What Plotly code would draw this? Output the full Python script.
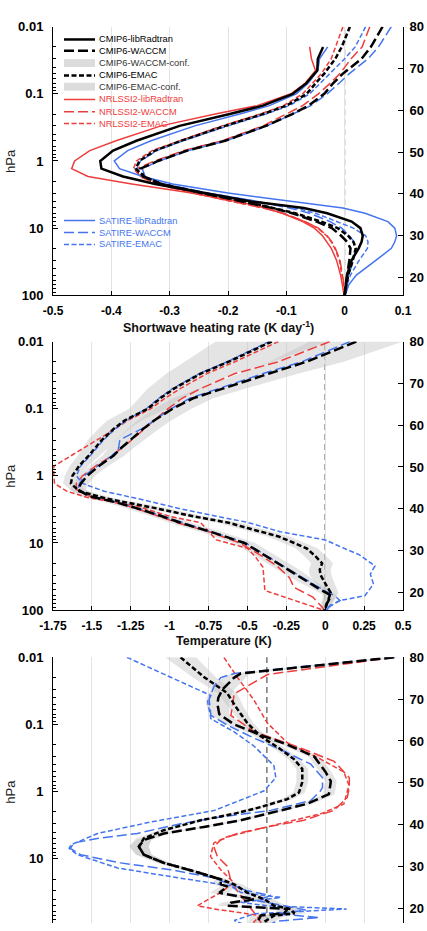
import plotly.graph_objects as go

# ---------------- tick labels ----------------
p_ticks = [0.01, 0.1, 1, 10, 100]
p_labels = ["0.01", "0.1", "1", "10", "100"]
alt_ticks = [20, 30, 40, 50, 60, 70, 80]
x1_ticks = [-0.5, -0.4, -0.3, -0.2, -0.1, 0, 0.1]
x1_labels = ["-0.5", "-0.4", "-0.3", "-0.2", "-0.1", "0", "0.1"]
x2_ticks = [-1.75, -1.5, -1.25, -1, -0.75, -0.5, -0.25, 0, 0.25, 0.5]
x2_labels = ["-1.75", "-1.5", "-1.25", "-1", "-0.75", "-0.5", "-0.25", "0", "0.25", "0.5"]
x3_ticks = [-1.1, -0.9, -0.7, -0.5, -0.3, -0.1, 0.1, 0.3, 0.5, 0.7]

# ---------------- panel 1 : shortwave heating rate (K/day) ----------------
p1 = [0.01, 0.02, 0.03, 0.05, 0.07, 0.1, 0.15, 0.2, 0.3, 0.5, 0.7, 1, 1.3, 1.7, 2.2, 3,
      4, 5, 6, 8, 10, 13, 16, 20, 30, 50, 70, 100]
p1_lrt = [0.02, 0.03, 0.045, 0.07, 0.1, 0.15, 0.2, 0.3, 0.5, 0.7, 1, 1.3, 1.7, 2.2, 3,
          4, 5, 6, 8, 10, 13, 16, 20, 30, 50, 70, 100]
hr_cmip6_lrt = [-0.037, -0.046, -0.047, -0.066, -0.089, -0.140, -0.197, -0.283, -0.357, -0.397,
                -0.419, -0.417, -0.380, -0.325, -0.240, -0.160, -0.070, -0.030, 0.012, 0.027,
                0.031, 0.029, 0.024, 0.012, 0.004, 0.002, 0.0]
hr_nrl_lrt = [-0.060, -0.057, -0.050, -0.068, -0.092, -0.150, -0.222, -0.315, -0.392, -0.437,
              -0.463, -0.468, -0.440, -0.365, -0.262, -0.183, -0.136, -0.107, -0.072, -0.052,
              -0.038, -0.030, -0.023, -0.014, -0.007, -0.004, -0.001]
hr_sat_lrt = [-0.029, -0.043, -0.046, -0.063, -0.083, -0.129, -0.180, -0.257, -0.332, -0.372,
              -0.395, -0.386, -0.346, -0.295, -0.200, -0.090, -0.003, 0.035, 0.074, 0.086,
              0.089, 0.086, 0.080, 0.054, 0.020, 0.007, 0.001]
hr_cmip6_waccm = [0.065, 0.045, 0.029, -0.003, -0.020, -0.035, -0.062, -0.090, -0.135, -0.205,
                  -0.270, -0.320, -0.350, -0.345, -0.315, -0.245, -0.175, -0.125, -0.090, -0.048,
                  -0.022, -0.006, 0.004, 0.010, 0.008, 0.004, 0.002, 0.0]
hr_cmip6_emac = [0.009, -0.005, -0.016, -0.035, -0.050, -0.065, -0.100, -0.140, -0.205, -0.280,
                 -0.325, -0.352, -0.358, -0.345, -0.315, -0.245, -0.170, -0.120, -0.085, -0.040,
                 -0.012, 0.006, 0.015, 0.019, 0.014, 0.006, 0.003, 0.0]
hr_sat_waccm = [0.080, 0.058, 0.040, 0.008, -0.010, -0.030, -0.058, -0.088, -0.133, -0.203,
                -0.268, -0.318, -0.347, -0.342, -0.310, -0.235, -0.150, -0.095, -0.060, -0.025,
                -0.005, 0.008, 0.016, 0.019, 0.015, 0.007, 0.003, 0.0]
hr_sat_emac = [0.036, 0.018, 0.000, -0.025, -0.042, -0.060, -0.095, -0.135, -0.200, -0.277,
               -0.322, -0.350, -0.356, -0.343, -0.310, -0.235, -0.150, -0.085, -0.050, -0.012,
               0.015, 0.036, 0.040, 0.039, 0.025, 0.010, 0.004, 0.0]
hr_nrl_waccm = [0.043, 0.030, 0.011, -0.008, -0.025, -0.045, -0.072, -0.100, -0.140, -0.210,
                -0.276, -0.326, -0.356, -0.352, -0.322, -0.260, -0.190, -0.140, -0.105, -0.068,
                -0.045, -0.030, -0.022, -0.016, -0.008, -0.003, -0.001, 0.0]
hr_nrl_emac = [-0.003, -0.015, -0.023, -0.040, -0.055, -0.072, -0.105, -0.145, -0.210, -0.284,
               -0.330, -0.357, -0.362, -0.350, -0.322, -0.262, -0.190, -0.140, -0.106, -0.068,
               -0.046, -0.031, -0.023, -0.017, -0.009, -0.004, -0.002, 0.0]

# ---------------- panel 2 : temperature (K) ----------------
p2_cmip6_emac = [0.01, 0.02, 0.03, 0.05, 0.07, 0.1, 0.15, 0.2, 0.3, 0.5, 0.7, 1, 1.3, 1.7, 2.2,
                 3, 4, 5, 6, 8, 10, 12, 16, 20, 25, 30, 40, 55, 70, 100]
t2_cmip6_emac = [-0.344, -0.62, -0.80, -0.97, -1.06, -1.14, -1.29, -1.36, -1.44, -1.52, -1.58,
                 -1.625, -1.635, -1.58, -1.40, -1.10, -0.85, -0.62, -0.50, -0.30, -0.20, -0.12,
                 -0.06, -0.02, -0.035, -0.03, 0.0, 0.035, 0.02, -0.005]
ci2_cmip6_emac = [0.36, 0.28, 0.22, 0.17, 0.14, 0.12, 0.11, 0.10, 0.09, 0.07, 0.06, 0.05, 0.05,
                  0.05, 0.06, 0.07, 0.07, 0.07, 0.07, 0.07, 0.07, 0.07, 0.07, 0.07, 0.07, 0.07,
                  0.06, 0.05, 0.04, 0.03]
p2_cmip6_waccm = [0.01, 0.02, 0.03, 0.05, 0.07, 0.1, 0.15, 0.2, 0.3, 0.4, 0.5, 0.7, 1, 1.3, 1.6,
                  2, 2.5, 3, 4, 5, 7, 10, 17, 26, 37, 49, 61, 80, 100]
t2_cmip6_waccm = [0.20, -0.12, -0.36, -0.66, -0.85, -0.98, -1.10, -1.17, -1.26, -1.32, -1.36,
                  -1.45, -1.53, -1.57, -1.59, -1.52, -1.34, -1.22, -1.05, -0.93, -0.72, -0.52,
                  -0.355, -0.227, -0.12, -0.034, 0.04, 0.01, 0.0]
ci2_cmip6_waccm = [0.30, 0.24, 0.19, 0.15, 0.13, 0.12, 0.11, 0.10, 0.09, 0.08, 0.07, 0.06, 0.05,
                   0.05, 0.05, 0.06, 0.07, 0.07, 0.07, 0.07, 0.07, 0.07, 0.07, 0.07, 0.06, 0.05,
                   0.04, 0.03, 0.02]
p2_nrl_waccm = [0.01, 0.02, 0.03, 0.05, 0.07, 0.1, 0.15, 0.2, 0.3, 0.5, 0.7, 1, 1.3, 1.6, 2, 2.5,
                3, 4, 5, 7, 10, 15, 22, 33, 46, 64, 94, 100]
t2_nrl_waccm = [0.03, -0.30, -0.58, -0.80, -0.92, -1.01, -1.10, -1.16, -1.25, -1.37, -1.47, -1.56,
                -1.60, -1.60, -1.52, -1.35, -1.23, -1.07, -0.95, -0.73, -0.55, -0.42, -0.31,
                -0.23, -0.20, -0.08, -0.013, -0.01]
p2_sat_waccm = [0.01, 0.02, 0.03, 0.05, 0.07, 0.1, 0.15, 0.2, 0.29, 0.4, 0.5, 0.7, 1, 1.3, 1.6,
                2, 2.5, 3, 4, 5, 7, 10, 17, 26, 37, 49, 61, 72, 85, 100]
t2_sat_waccm = [0.16, -0.15, -0.40, -0.68, -0.87, -0.99, -1.10, -1.18, -1.32, -1.33, -1.37,
                -1.46, -1.55, -1.58, -1.59, -1.51, -1.33, -1.21, -1.04, -0.92, -0.71, -0.51,
                -0.35, -0.22, -0.11, -0.02, 0.06, 0.095, 0.03, 0.01]
p2_sat_emac = [0.01, 0.02, 0.03, 0.05, 0.07, 0.1, 0.15, 0.2, 0.3, 0.5, 0.7, 1, 1.3, 1.7, 2.2,
               3.1, 4, 4.9, 6.8, 8.5, 9, 12, 15, 22, 29, 41, 61, 72, 94, 100]
t2_sat_emac = [-0.36, -0.63, -0.81, -0.98, -1.07, -1.15, -1.28, -1.35, -1.43, -1.51, -1.57,
               -1.60, -1.56, -1.42, -1.20, -0.93, -0.70, -0.505, -0.29, -0.077, 0.0, 0.12, 0.22,
               0.32, 0.29, 0.31, 0.255, 0.095, 0.01, 0.0]
p2_nrl_emac = [0.01, 0.02, 0.03, 0.05, 0.07, 0.1, 0.15, 0.2, 0.37, 0.5, 0.72, 1, 1.3, 1.7, 2.1,
               2.75, 4, 5, 9, 12, 16, 23, 51, 68, 80, 96, 100]
t2_nrl_emac = [-0.30, -0.58, -0.76, -0.93, -1.03, -1.12, -1.27, -1.35, -1.54, -1.63, -1.745,
               -1.745, -1.74, -1.66, -1.53, -1.23, -1.0, -0.80, -0.70, -0.50, -0.45, -0.40,
               -0.388, -0.227, -0.13, -0.034, -0.02]

# ---------------- panel 3 ----------------
p3_cmip6_emac = [0.01, 0.0196, 0.034, 0.054, 0.095, 0.149, 0.233, 0.327, 0.458, 0.72, 1.03, 1.29,
                 1.7, 2.14, 2.67, 3.75, 4.97, 6.58, 8.7, 11.5, 15.3, 20.2, 24, 32, 40, 50, 56,
                 65, 70, 87, 100]
t3_cmip6_emac = [-0.444, -0.324, -0.204, -0.161, -0.101, -0.033, 0.07, 0.139, 0.182, 0.182, 0.165,
                 0.105, -0.033, -0.17, -0.341, -0.53, -0.633, -0.658, -0.633, -0.53, -0.376,
                 -0.238, -0.168, -0.1, -0.014, 0.038, 0.123, 0.141, 0.038, -0.014, -0.03]
ci3_cmip6_emac = [0.08, 0.06, 0.05, 0.04, 0.03, 0.03, 0.03, 0.03, 0.03, 0.03, 0.03, 0.03, 0.03,
                  0.03, 0.03, 0.03, 0.04, 0.05, 0.04, 0.03, 0.03, 0.03, 0.04, 0.05, 0.05, 0.06,
                  0.06, 0.06, 0.06, 0.05, 0.05]
p3_cmip6_waccm = [0.01, 0.0174, 0.02, 0.025, 0.03, 0.04, 0.05, 0.07, 0.1, 0.15, 0.2, 0.3, 0.5,
                  0.7, 1.09, 1.52, 2.14, 2.67, 3.35, 4.2, 5.25, 6.58, 8.7, 11.5, 15.3, 20.2, 24,
                  26, 32, 40, 45, 50, 56, 65, 70, 87, 100]
t3_cmip6_waccm = [0.655, -0.134, -0.168, -0.202, -0.228, -0.25, -0.254, -0.245, -0.168, -0.014,
                  0.106, 0.243, 0.30, 0.329, 0.319, 0.207, 0.002, -0.135, -0.324, -0.53, -0.633,
                  -0.658, -0.633, -0.53, -0.376, -0.238, -0.237, -0.202, -0.245, -0.065, -0.185,
                  -0.202, 0.106, 0.089, -0.031, -0.048, -0.04]
ci3_cmip6_waccm = [0.04, 0.05, 0.06, 0.06, 0.06, 0.06, 0.06, 0.05, 0.04, 0.03, 0.03, 0.03, 0.03,
                   0.03, 0.03, 0.03, 0.03, 0.03, 0.03, 0.03, 0.04, 0.05, 0.04, 0.03, 0.03, 0.03,
                   0.04, 0.04, 0.05, 0.05, 0.05, 0.05, 0.05, 0.05, 0.05, 0.05, 0.05]
p3_sat_waccm = [0.01, 0.0174, 0.02, 0.0266, 0.0417, 0.0733, 0.1025, 0.16, 0.25, 0.39, 0.62, 0.87,
                0.97, 1.36, 1.9, 2.39, 3.0, 4.2, 4.97, 5.8, 7.0, 8.7, 11.5, 14.5, 19.2, 22.7, 30,
                35, 42, 50, 58, 66, 75, 85, 100]
t3_sat_waccm = [0.655, -0.168, -0.237, -0.271, -0.297, -0.288, -0.202, -0.065, 0.089, 0.226,
                0.286, 0.286, 0.276, 0.225, 0.019, -0.238, -0.444, -0.667, -0.873, -0.993, -1.01,
                -0.958, -0.753, -0.496, -0.273, -0.204, -0.1, 0.02, -0.05, 0.09, 0.2, 0.05, 0.27,
                0.05, 0.0]
p3_sat_emac = [0.01, 0.037, 0.045, 0.082, 0.129, 0.209, 0.41, 0.62, 0.97, 1.91, 2.83, 4.2, 6.2,
               7.0, 8.7, 13.7, 18.1, 25.4, 31.8, 37.6, 44.5, 50, 56, 60, 66, 83, 100]
t3_sat_emac = [-0.72, -0.288, -0.305, -0.288, -0.168, -0.067, 0.036, 0.046, -0.014, -0.271,
               -0.597, -0.871, -1.008, -1.017, -0.974, -0.768, -0.511, -0.185, -0.134, 0.072,
               -0.134, 0.0, 0.41, 0.2, -0.065, -0.168, -0.1]
p3_nrl_waccm = [0.01, 0.018, 0.035, 0.073, 0.128, 0.225, 0.354, 0.62, 0.87, 1.23, 1.9, 2.67, 3.35,
                4.2, 5.26, 6.6, 9.2, 12.9, 20.2, 25.4, 35.4, 62.6, 87, 100]
t3_nrl_waccm = [0.655, 0.003, -0.168, -0.185, -0.065, 0.175, 0.346, 0.424, 0.424, 0.413, 0.345,
                0.19, 0.002, -0.153, -0.238, -0.273, -0.255, -0.204, -0.187, -0.17, -0.135,
                -0.067, -0.033, -0.03]
p3_nrl_emac = [0.01, 0.0196, 0.043, 0.095, 0.187, 0.327, 0.51, 0.8, 1.53, 2.14, 2.82, 3.75, 4.7,
               5.8, 9.2, 14.5, 22.7, 31.8, 50, 55.7, 70, 87, 100]
t3_nrl_emac = [-0.221, -0.153, -0.067, 0.002, 0.105, 0.276, 0.396, 0.422, 0.396, 0.276, 0.105,
               -0.067, -0.204, -0.273, -0.29, -0.238, -0.17, -0.238, -0.358, -0.273, -0.033,
               -0.067, -0.06]

legend_labels = ["CMIP6-libRadtran", "CMIP6-WACCM", "CMIP6-WACCM-conf.", "CMIP6-EMAC",
                 "CMIP6-EMAC-conf.", "NRLSSI2-libRadtran", "NRLSSI2-WACCM", "NRLSSI2-EMAC",
                 "SATIRE-libRadtran", "SATIRE-WACCM", "SATIRE-EMAC"]

# ---------------- styling ----------------
W, H = 427, 931
ML, MR = 53, 24
PW = W - ML - MR
RED = "#ee3d3d"
BLUE = "#4575ee"
BLACK = "#000000"
BAND = "rgba(195,195,195,0.45)"
LONG = "10px,4px"
SHORT = "5px,2.5px"
FONT = "Liberation Sans, Arial, sans-serif"

def py(px):  # pixel row -> paper fraction
    return 1 - px / H

def pxx(px):
    return (px - ML) / PW

fig = go.Figure()

def add_line(p, v, color, dash, width, xa, ya):
    fig.add_trace(go.Scatter(x=v, y=p, mode="lines", xaxis=xa, yaxis=ya, showlegend=False,
                             hoverinfo="skip",
                             line=dict(color=color, dash=dash, width=width)))

def add_band(p, c, hw, xa, ya):
    lo = [a - b for a, b in zip(c, hw)]
    hi = [a + b for a, b in zip(c, hw)]
    fig.add_trace(go.Scatter(x=lo + hi[::-1], y=list(p) + list(p)[::-1], mode="lines",
                             fill="toself", fillcolor=BAND, line=dict(width=0),
                             xaxis=xa, yaxis=ya, showlegend=False, hoverinfo="skip"))

# panel 1
add_line(p1_lrt, hr_nrl_lrt, RED, "solid", 1.5, "x", "y")
add_line(p1, hr_nrl_waccm, RED, LONG, 1.5, "x", "y")
add_line(p1, hr_nrl_emac, RED, SHORT, 1.5, "x", "y")
add_line(p1_lrt, hr_sat_lrt, BLUE, "solid", 1.5, "x", "y")
add_line(p1, hr_sat_waccm, BLUE, LONG, 1.5, "x", "y")
add_line(p1, hr_sat_emac, BLUE, SHORT, 1.5, "x", "y")
add_line(p1_lrt, hr_cmip6_lrt, BLACK, "solid", 2.5, "x", "y")
add_line(p1, hr_cmip6_waccm, BLACK, LONG, 2.5, "x", "y")
add_line(p1, hr_cmip6_emac, BLACK, SHORT, 2.5, "x", "y")

# panel 2
add_band(p2_cmip6_emac, t2_cmip6_emac, ci2_cmip6_emac, "x2", "y2")
add_band(p2_cmip6_waccm, t2_cmip6_waccm, ci2_cmip6_waccm, "x2", "y2")
add_line(p2_nrl_waccm, t2_nrl_waccm, RED, LONG, 1.5, "x2", "y2")
add_line(p2_nrl_emac, t2_nrl_emac, RED, SHORT, 1.5, "x2", "y2")
add_line(p2_sat_waccm, t2_sat_waccm, BLUE, LONG, 1.5, "x2", "y2")
add_line(p2_sat_emac, t2_sat_emac, BLUE, SHORT, 1.5, "x2", "y2")
add_line(p2_cmip6_waccm, t2_cmip6_waccm, BLACK, LONG, 2.5, "x2", "y2")
add_line(p2_cmip6_emac, t2_cmip6_emac, BLACK, SHORT, 2.5, "x2", "y2")

# panel 3
add_band(p3_cmip6_emac, t3_cmip6_emac, ci3_cmip6_emac, "x3", "y3")
add_band(p3_cmip6_waccm, t3_cmip6_waccm, ci3_cmip6_waccm, "x3", "y3")
add_line(p3_nrl_waccm, t3_nrl_waccm, RED, LONG, 1.5, "x3", "y3")
add_line(p3_nrl_emac, t3_nrl_emac, RED, SHORT, 1.5, "x3", "y3")
add_line(p3_sat_waccm, t3_sat_waccm, BLUE, LONG, 1.5, "x3", "y3")
add_line(p3_sat_emac, t3_sat_emac, BLUE, SHORT, 1.5, "x3", "y3")
add_line(p3_cmip6_waccm, t3_cmip6_waccm, BLACK, LONG, 2.5, "x3", "y3")
add_line(p3_cmip6_emac, t3_cmip6_emac, BLACK, SHORT, 2.5, "x3", "y3")

# invisible traces so the altitude axes are drawn
for xa, ya in (("x", "y4"), ("x2", "y5"), ("x3", "y6")):
    fig.add_trace(go.Scatter(x=[None] * len(alt_ticks), y=alt_ticks, mode="markers",
                             xaxis=xa, yaxis=ya, showlegend=False, hoverinfo="skip"))

tickfont_y = dict(family=FONT, size=13, color="black", weight="bold")
tickfont_x = dict(family=FONT, size=12, color="black", weight="bold")
minor_vals = [m * 10.0 ** e for e in range(-2, 2) for m in range(2, 10)]

def xaxis(rng, tv, tt, anchor, show=True):
    d = dict(domain=[0, 1], anchor=anchor, range=rng, tickmode="array", tickvals=tv,
             showgrid=True, gridcolor="#e3e3e3", gridwidth=1, zeroline=False,
             showline=show, linecolor="black", linewidth=1,
             ticks="inside" if show else "", ticklen=4, tickcolor="black",
             tickfont=tickfont_x, showticklabels=show, ticklabelstandoff=4)
    if tt is not None:
        d["ticktext"] = tt
    return d

def yaxis(dom, rng, anchor):
    return dict(domain=dom, anchor=anchor, type="log", range=rng, tickmode="array",
                tickvals=p_ticks, ticktext=p_labels, showgrid=False, zeroline=False,
                showline=True, linecolor="black", linewidth=1, ticks="inside", ticklen=5,
                tickcolor="black", tickfont=tickfont_y, ticklabelstandoff=6,
                minor=dict(tickmode="array", tickvals=minor_vals, ticks="inside", ticklen=3,
                           tickcolor="black", showgrid=False))

def altaxis(over, anchor, rng):
    return dict(overlaying=over, anchor=anchor, side="right", range=rng, tickmode="array",
                tickvals=alt_ticks, showgrid=False, zeroline=False, showline=True,
                linecolor="black", linewidth=1, ticks="inside", ticklen=5, tickcolor="black",
                tickfont=tickfont_y, ticklabelstandoff=3)

dom1 = [py(293), py(20)]
dom2 = [py(613), py(340)]
dom3 = [0, py(661)]
bottom3 = -2 + (H - 661) / 68.25
alt_bottom = 80 - 64.24
alt_bottom3 = 80 - 64.24 * (bottom3 + 2) / 4

fig.update_layout(
    width=W, height=H, margin=dict(l=ML, r=MR, t=0, b=0),
    paper_bgcolor="white", plot_bgcolor="white",
    font=dict(family=FONT, color="black"),
    xaxis=xaxis([-0.5, 0.1], x1_ticks, x1_labels, "y"),
    yaxis=yaxis(dom1, [2, -2], "x"),
    xaxis2=xaxis([-1.75, 0.5], x2_ticks, x2_labels, "y2"),
    yaxis2=yaxis(dom2, [2, -2], "x2"),
    xaxis3=xaxis([-1.1, 0.7], x3_ticks, None, "y3", show=False),
    yaxis3=yaxis(dom3, [bottom3, -2], "x3"),
    yaxis4=altaxis("y", "x", [alt_bottom, 80]),
    yaxis5=altaxis("y2", "x2", [alt_bottom, 80]),
    yaxis6=altaxis("y3", "x3", [alt_bottom3, 80]),
    showlegend=False,
)

# zero reference lines
for xr, yr, col, w in (("x", "y", "#333333", 1), ("x2", "y2", "#666666", 1.5),
                       ("x3", "y3", "#555555", 1.2)):
    fig.add_shape(type="line", xref=xr, yref=yr + " domain", x0=0, x1=0, y0=0, y1=1,
                  line=dict(color=col, width=w, dash="6px,4px"), layer="below")

# axis titles
fig.add_annotation(text="Shortwave heating rate (K day<sup>-1</sup>)", xref="paper", yref="paper",
                   x=pxx(218), y=py(325), showarrow=False, xanchor="center", yanchor="middle",
                   font=dict(family=FONT, size=12.5, color="#111", weight="bold"))
fig.add_annotation(text="Temperature (K)", xref="paper", yref="paper",
                   x=pxx(224), y=py(644), showarrow=False, xanchor="center", yanchor="middle",
                   font=dict(family=FONT, size=12.5, color="#111", weight="bold"))
for yc in (156.5, 476.5, 797.5):
    fig.add_annotation(text="hPa", xref="paper", yref="paper", x=pxx(11), y=py(yc),
                       showarrow=False, textangle=-90, xanchor="center", yanchor="middle",
                       font=dict(family=FONT, size=13, color="#222"))

# manual legend (panel 1)
leg_rows = [33, 44.5, 57, 69.5, 81, 94, 106.5, 118.5, 217, 229.3, 241.3]
leg_style = [("line", BLACK, "solid", 2.5), ("line", BLACK, LONG, 2.5), ("box", None, None, 0),
             ("line", BLACK, SHORT, 2.5), ("box", None, None, 0),
             ("line", RED, "solid", 1.5), ("line", RED, LONG, 1.5), ("line", RED, SHORT, 1.5),
             ("line", BLUE, "solid", 1.5), ("line", BLUE, LONG, 1.5), ("line", BLUE, SHORT, 1.5)]
leg_text_col = ["#000", "#000", "#333", "#000", "#333", RED, RED, RED, BLUE, BLUE, BLUE]
for lab, row, st, tc in zip(legend_labels, leg_rows, leg_style, leg_text_col):
    kind, col, dash, w = st
    if kind == "line":
        fig.add_shape(type="line", xref="paper", yref="paper", x0=pxx(64), x1=pxx(95),
                      y0=py(row), y1=py(row), line=dict(color=col, width=w, dash=dash))
    else:
        fig.add_shape(type="rect", xref="paper", yref="paper", x0=pxx(64), x1=pxx(95),
                      y0=py(row + 4), y1=py(row - 4), line=dict(width=0),
                      fillcolor="rgba(205,205,205,0.7)")
    fig.add_annotation(text=lab, xref="paper", yref="paper", x=pxx(97), y=py(row),
                       xanchor="left", yanchor="middle", showarrow=False,
                       font=dict(family=FONT, size=9.3, color=tc))

fig.write_html("out.html")
